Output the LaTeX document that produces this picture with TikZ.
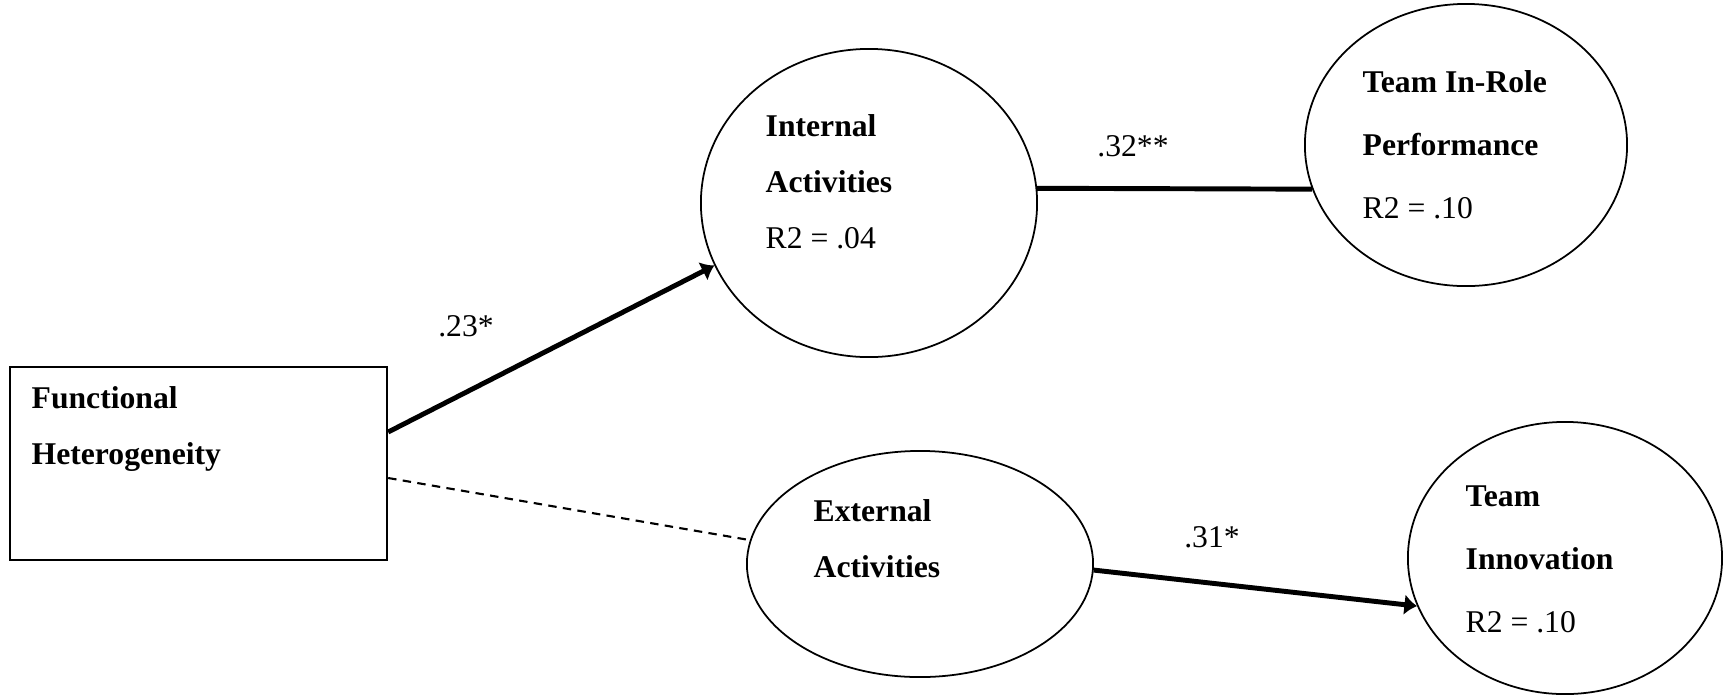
\documentclass[tikz,border=0pt]{standalone}
\usepackage{fontspec}
\setmainfont{Liberation Serif}
\usetikzlibrary{calc,shapes.geometric,arrows.meta}
\tikzset{>={Latex[length=3.6pt,width=6pt]}}
\tikzset{
  construct/.style={draw, ellipse, line width=0.5pt, inner sep=0pt},
  caption/.style={anchor=base west, align=left, inner sep=0pt, font=\fontsize{9}{15.9}\selectfont},
  effect/.style={line width=1.4pt},
  coef/.style={inner sep=0pt, font=\fontsize{9}{11}\selectfont}
}

\begin{document}
\begin{tikzpicture}[x=0.01cm, y=-0.01cm]
  \useasboundingbox (0,0) rectangle (1723,696);
  % constructs
  \node[draw, line width=0.6pt, minimum width=3.77cm, minimum height=1.93cm, inner sep=0pt] (fh) at (198.5,463.5) {};
  \node[construct, minimum width=3.36cm, minimum height=3.08cm] (ia) at (869,203) {};
  \node[construct, minimum width=3.22cm, minimum height=2.82cm] (ip) at (1466,145) {};
  \node[construct, minimum width=3.46cm, minimum height=2.26cm] (ea) at (920,564) {};
  \node[construct, minimum width=3.14cm, minimum height=2.72cm] (ti) at (1565,558) {};
  % texts (placed at the baseline of their last line)
  \node[caption] (fh-txt) at (31,464) {\textbf{Functional}\\\textbf{Heterogeneity}};
  \node[caption] (ia-txt) at (765,248) {\textbf{Internal}\\\textbf{Activities}\\R2 = .04};
  \node[caption, font=\fontsize{9}{17.8}\selectfont] (ip-txt) at (1362,218) {\textbf{Team In-Role}\\\textbf{Performance}\\R2 = .10};
  \node[caption] (ea-txt) at (813,577) {\textbf{External}\\\textbf{Activities}};
  \node[caption, font=\fontsize{9}{17.8}\selectfont] (ti-txt) at (1465,632) {\textbf{Team}\\\textbf{Innovation}\\R2 = .10};
  % paths
  \draw[effect, ->] ($(fh.east)+(0,-31.5)$) -- (ia.202);
  \draw[effect] (ia.5) -- (ip.196);
  \draw[line width=0.6pt, dash pattern=on 2.4pt off 1.8pt] ($(fh.east)+(0,14.5)$) -- (ea.172);
  \draw[effect, ->] (ea.-2) -- (ti.198);
  % coefficients
  \node[coef] (b23) at (466,326) {.23*};
  \node[coef] (b32) at (1133,146) {.32**};
  \node[coef] (b31) at (1212,537) {.31*};
\end{tikzpicture}
\end{document}
